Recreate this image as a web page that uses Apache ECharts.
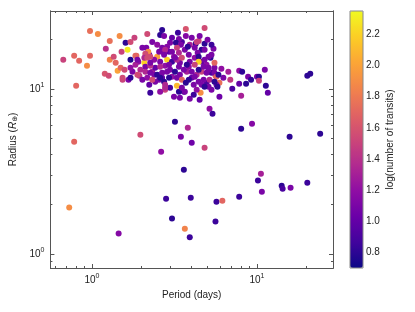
<!DOCTYPE html>
<html><head><meta charset="utf-8">
<script src="https://cdn.jsdelivr.net/npm/echarts@6/dist/echarts.min.js"></script>
<style>html,body{margin:0;padding:0;background:#fff}#c{width:415px;height:312px}</style>
</head><body><div id="c"></div>
<script>
const period = [0.670,0.780,0.836,0.933,0.973,0.973,1.086,0.802,0.780,1.213,1.282,1.196,1.264,1.282,1.354,1.392,1.431,1.471,1.512,1.533,1.598,1.643,1.665,1.712,1.712,1.760,1.809,1.860,1.911,1.938,1.965,2.077,2.164,2.135,2.225,2.256,2.225,2.319,2.485,2.590,2.662,2.736,2.852,2.775,2.973,3.141,3.184,3.365,3.273,3.605,3.809,3.915,3.459,4.025,4.557,4.815,4.815,2.626,5.159,3.706,3.706,4.253,4.433,4.815,5.019,5.452,5.231,5.528,6.086,5.528,5.605,5.923,6.705,6.893,7.803,8.132,7.085,7.803,8.593,8.021,8.834,9.207,10.0,10.28,10.28,11.16,11.32,11.64,20.19,21.04,5.923,3.655,5.377,8.021,9.335,15.77,24.16,0.728,1.451,3.605,2.813,3.970,3.055,3.655,3.915,5.683,6.171,5.605,7.803,10.14,10.57,10.71,14.12,14.31,15.99,20.19,
2.319,2.485,3.055,3.319,4.025,3.915,4.620,4.372,3.655,3.141,2.932,2.554,2.384,2.590,3.055,3.412,4.196,4.620,5.304,4.950,5.304,3.757,3.412,3.055,2.662,2.417,2.164,2.020,1.834,1.712,2.106,2.417,2.973,4.025,4.433,4.950,5.304,4.312,3.507,2.973,2.590,3.412,4.494,4.138,2.852,3.507,4.494,5.304,3.273,3.862,4.312,5.683,6.258,4.620,2.775,2.256,
2.020,2.194,2.106,2.077,2.256,2.662,2.736,1.834,3.365,3.228,3.459,3.273,3.809,4.312,4.196,4.815,2.775,2.736,3.055,3.365,3.862,4.433,5.088,3.507,1.885,2.164,2.256,2.590,1.492,1.576,1.965,2.106,2.256,2.384,2.485,2.662,1.533,1.712,1.885,2.319,2.554,2.736,2.775,2.590,3.184,3.915,4.433,4.815,2.932,3.365,3.757,4.196,4.749,5.088,2.852,3.184,3.605,4.025,4.433,4.950,2.932,3.273,3.507,3.862,4.196,4.749,2.775,3.706,4.138,4.620,5.088,4.815,5.088,5.528,5.683,5.159,5.528,5.842,5.762];
const radius = [14.98,15.84,14.77,13.78,15.84,22.43,21.51,10.43,4.78,17.46,19.51,12.32,11.98,14.98,15.62,14.36,12.85,20.92,16.75,11.34,18.98,17.22,11.34,14.98,19.24,12.68,20.35,15.84,14.57,11.98,5.27,14.36,21.51,17.70,10.57,9.46,16.06,12.68,15.62,21.21,22.75,20.92,14.98,9.86,18.98,8.95,6.31,9.59,10.43,9.59,5.81,8.70,5.13,4.71,9.46,23.39,4.40,4.16,7.57,23.06,20.92,18.72,19.51,18.72,19.79,17.46,15.40,13.40,13.21,14.36,11.98,10.87,12.68,11.34,12.85,12.68,10.0,10.72,10.72,9.07,11.82,11.34,11.82,11.82,11.18,13.03,10.43,9.46,11.98,12.32,8.95,9.59,7.06,5.73,6.14,5.13,5.34,1.91,1.33,3.24,2.16,2.19,1.64,1.42,1.26,2.07,2.10,1.57,2.22,2.78,3.06,2.38,2.59,2.48,2.52,2.70,
19.24,18.46,20.35,21.82,20.35,18.46,17.22,16.52,17.22,15.62,16.75,16.75,14.98,14.57,14.57,14.36,15.40,14.57,16.06,13.97,12.50,12.68,12.15,11.82,11.66,11.02,11.66,11.34,13.97,13.40,13.59,13.40,13.03,11.66,11.02,10.87,9.86,9.86,10.14,10.14,9.59,8.82,8.58,9.20,17.95,19.24,20.92,18.46,14.98,13.59,12.15,10.57,11.66,12.68,13.78,13.78,
17.70,16.75,16.29,15.40,15.62,17.70,16.52,15.84,20.06,18.98,18.46,17.70,17.95,19.24,17.70,17.22,17.22,16.06,16.75,16.52,16.06,15.62,15.62,15.40,14.98,15.40,14.36,13.59,13.40,13.03,13.03,12.68,12.50,12.15,12.15,12.50,11.66,11.66,12.15,11.34,11.34,11.02,10.14,11.66,15.40,14.57,14.57,14.98,13.97,13.59,13.97,13.97,13.59,13.40,12.68,12.68,13.03,12.68,13.03,12.50,11.66,11.66,11.34,11.34,11.82,11.34,10.57,10.87,10.57,10.57,10.28,10.28,13.03,12.50,11.82,11.34,11.02,12.15,10.28];
const logTransits = [1.5,1.7,1.7,1.9,1.7,1.75,1.9,1.7,1.7,1.4,1.75,1.6,1.55,1.85,1.55,1.7,2.0,1.9,1.5,1.5,0.8,2.3,1.1,0.75,1.55,1.1,1.5,1.7,1.2,1.4,1.55,2.2,1.55,1.1,1.0,0.85,1.1,1.3,2.0,0.8,0.8,1.1,2.2,1.5,1.1,1.1,0.8,0.8,2.1,0.8,1.35,1.1,1.1,1.05,1.9,1.55,1.5,1.2,1.2,1.6,1.15,0.8,1.5,0.8,1.1,1.1,0.8,1.1,1.2,1.7,1.7,1.75,1.3,1.45,1.2,0.8,0.9,1.0,0.8,1.3,1.1,0.8,1.1,0.8,1.5,1.1,0.8,1.0,0.8,0.8,1.05,1.1,0.85,0.8,1.15,0.8,0.8,1.9,1.15,0.8,0.85,0.85,0.8,1.85,0.85,0.85,1.7,0.85,0.85,0.85,1.3,1.1,0.8,0.9,1.1,0.85,
1.1,1.2,1.0,0.85,1.1,1.3,0.8,1.1,1.1,1.2,1.0,1.1,1.2,1.1,0.85,1.1,1.2,1.0,1.1,1.2,0.9,1.3,1.1,1.2,1.0,1.1,1.2,1.1,1.3,1.2,1.1,1.0,1.1,1.0,1.1,0.9,1.1,1.2,1.1,0.9,1.2,1.1,1.0,0.85,1.15,0.9,1.1,0.85,1.35,1.2,1.35,1.1,1.1,1.5,1.2,1.4,
1.1,1.9,1.55,1.35,1.55,1.1,1.1,1.7,1.1,0.8,1.1,1.5,0.8,1.5,1.1,1.1,1.35,1.1,1.1,1.35,1.1,0.8,1.1,1.55,1.1,1.55,1.1,1.35,1.7,1.55,1.35,1.35,1.1,1.1,0.8,1.1,1.55,0.8,1.55,1.55,1.1,0.8,1.35,0.8,1.1,1.1,2.2,1.1,1.1,1.1,0.8,1.5,1.1,1.1,1.1,0.8,1.1,1.1,0.8,1.1,0.8,1.1,1.7,0.8,1.1,1.1,1.35,0.8,1.1,1.1,1.1,0.8,1.1,1.1,1.7,1.35,0.8,0.8,0.8];
const xMajor = [1, 10];
const xMinor = [0.6,0.7,0.8,0.9,2,3,4,5,6,7,8,9,20];
const yMajor = [1, 10];
const yMinor = [0.9,2,3,4,5,6,7,8,9,20];
const cbTicks = [0.8,1.0,1.2,1.4,1.6,1.8,2.0,2.2];
const plasma = ['#0d0887','#41049d','#6a00a8','#8f0da4','#b12a90','#cc4778','#e16462','#f2844b','#fca636','#fcce25','#f0f921'];

const FONT = 'Liberation Sans, Arial, sans-serif';
const LC = '#555';
const pts = period.map((p,i)=>[p, radius[i], logTransits[i]]);
const powFmt = v => '{b|10}{s|' + Math.round(Math.log10(v)) + '}';
const powRich = { b:{fontSize:10, fontFamily:FONT, color:'#222'}, s:{fontSize:7, fontFamily:FONT, color:'#222', padding:[0,0,7,0]} };

function xAx(pos, ticks, len, lab){
  return { type:'log', gridIndex:0, min:0.56, max:28.9, position:pos,
    axisLine:{show:lab!==null, lineStyle:{color:LC, width:1}},
    axisTick:{show:true, inside:true, length:len, customValues:ticks, lineStyle:{color:LC}},
    axisLabel:{show:!!lab, customValues:ticks, formatter:powFmt, rich:powRich, margin:5},
    splitLine:{show:false}, minorTick:{show:false} };
}
function yAx(pos, ticks, len, lab){
  return { type:'log', gridIndex:0, min:0.822, max:29.6, position:pos,
    axisLine:{show:lab!==null, lineStyle:{color:LC, width:1}},
    axisTick:{show:true, inside:true, length:len, customValues:ticks, lineStyle:{color:LC}},
    axisLabel:{show:!!lab, customValues:ticks, formatter:powFmt, rich:powRich, margin:6},
    splitLine:{show:false}, minorTick:{show:false} };
}
const xa0 = xAx('bottom', xMajor, 4, true);
xa0.name = 'Period (days)'; xa0.nameLocation='middle'; xa0.nameGap=22;
xa0.nameTextStyle = {fontSize:10, fontFamily:FONT, color:'#222'};
const ya0 = yAx('left', yMajor, 4, true);
ya0.name = '{n|Radius (}{i|R}{u|⊕}{n|)}'; ya0.nameLocation='middle'; ya0.nameGap=25; ya0.nameRotate=90;
ya0.nameTextStyle = {fontSize:10, fontFamily:FONT, color:'#222', rich:{
  n:{fontSize:10, fontFamily:FONT, color:'#222'},
  i:{fontSize:10, fontFamily:FONT, fontStyle:'italic', color:'#222'},
  u:{fontSize:7, fontFamily:'DejaVu Sans', color:'#222', padding:[4,0,0,0]} }};

const option = {
  animation:false,
  backgroundColor:'#fff',
  grid:[
    {left:47, right:82, top:11, bottom:44, containLabel:false},
    {left:350, width:13, top:11, height:257, show:true, borderColor:'#888', borderWidth:1, backgroundColor:'transparent', z:5}
  ],
  xAxis:[
    xa0, xAx('bottom', xMinor, 2, false), xAx('top', xMajor, 4, false), xAx('top', xMinor, 2, false),
    {type:'value', gridIndex:1, show:false, min:0, max:1}
  ],
  yAxis:[
    ya0, yAx('left', yMinor, 2, false), yAx('right', yMajor, 4, false), yAx('right', yMinor, 2, false),
    {type:'value', gridIndex:1, min:0.70, max:2.35, position:'right',
     axisLine:{show:false}, splitLine:{show:false},
     axisTick:{show:true, inside:false, length:3, customValues:cbTicks, lineStyle:{color:'#333'}},
     axisLabel:{customValues:cbTicks, formatter:v=>v.toFixed(1), fontSize:10, fontFamily:FONT, color:'#222', margin:3},
     name:'log(number of transits)', nameLocation:'middle', nameRotate:90, nameGap:22,
     nameTextStyle:{fontSize:10, fontFamily:FONT, color:'#222'}}
  ],
  visualMap:{
    type:'continuous', min:0.70, max:2.35, dimension:2, seriesIndex:0,
    inRange:{color:plasma}, show:true, orient:'vertical',
    left:350, top:11, itemWidth:13, itemHeight:257, padding:0,
    calculable:false, text:null, hoverLink:false
  },
  series:[{
    type:'scatter', xAxisIndex:0, yAxisIndex:0, data:pts, symbolSize:6,
    itemStyle:{opacity:1}, emphasis:{disabled:true}
  }]
};
const chart = echarts.init(document.getElementById('c'), null, {renderer:'canvas'});
chart.setOption(option);
</script></body></html>
